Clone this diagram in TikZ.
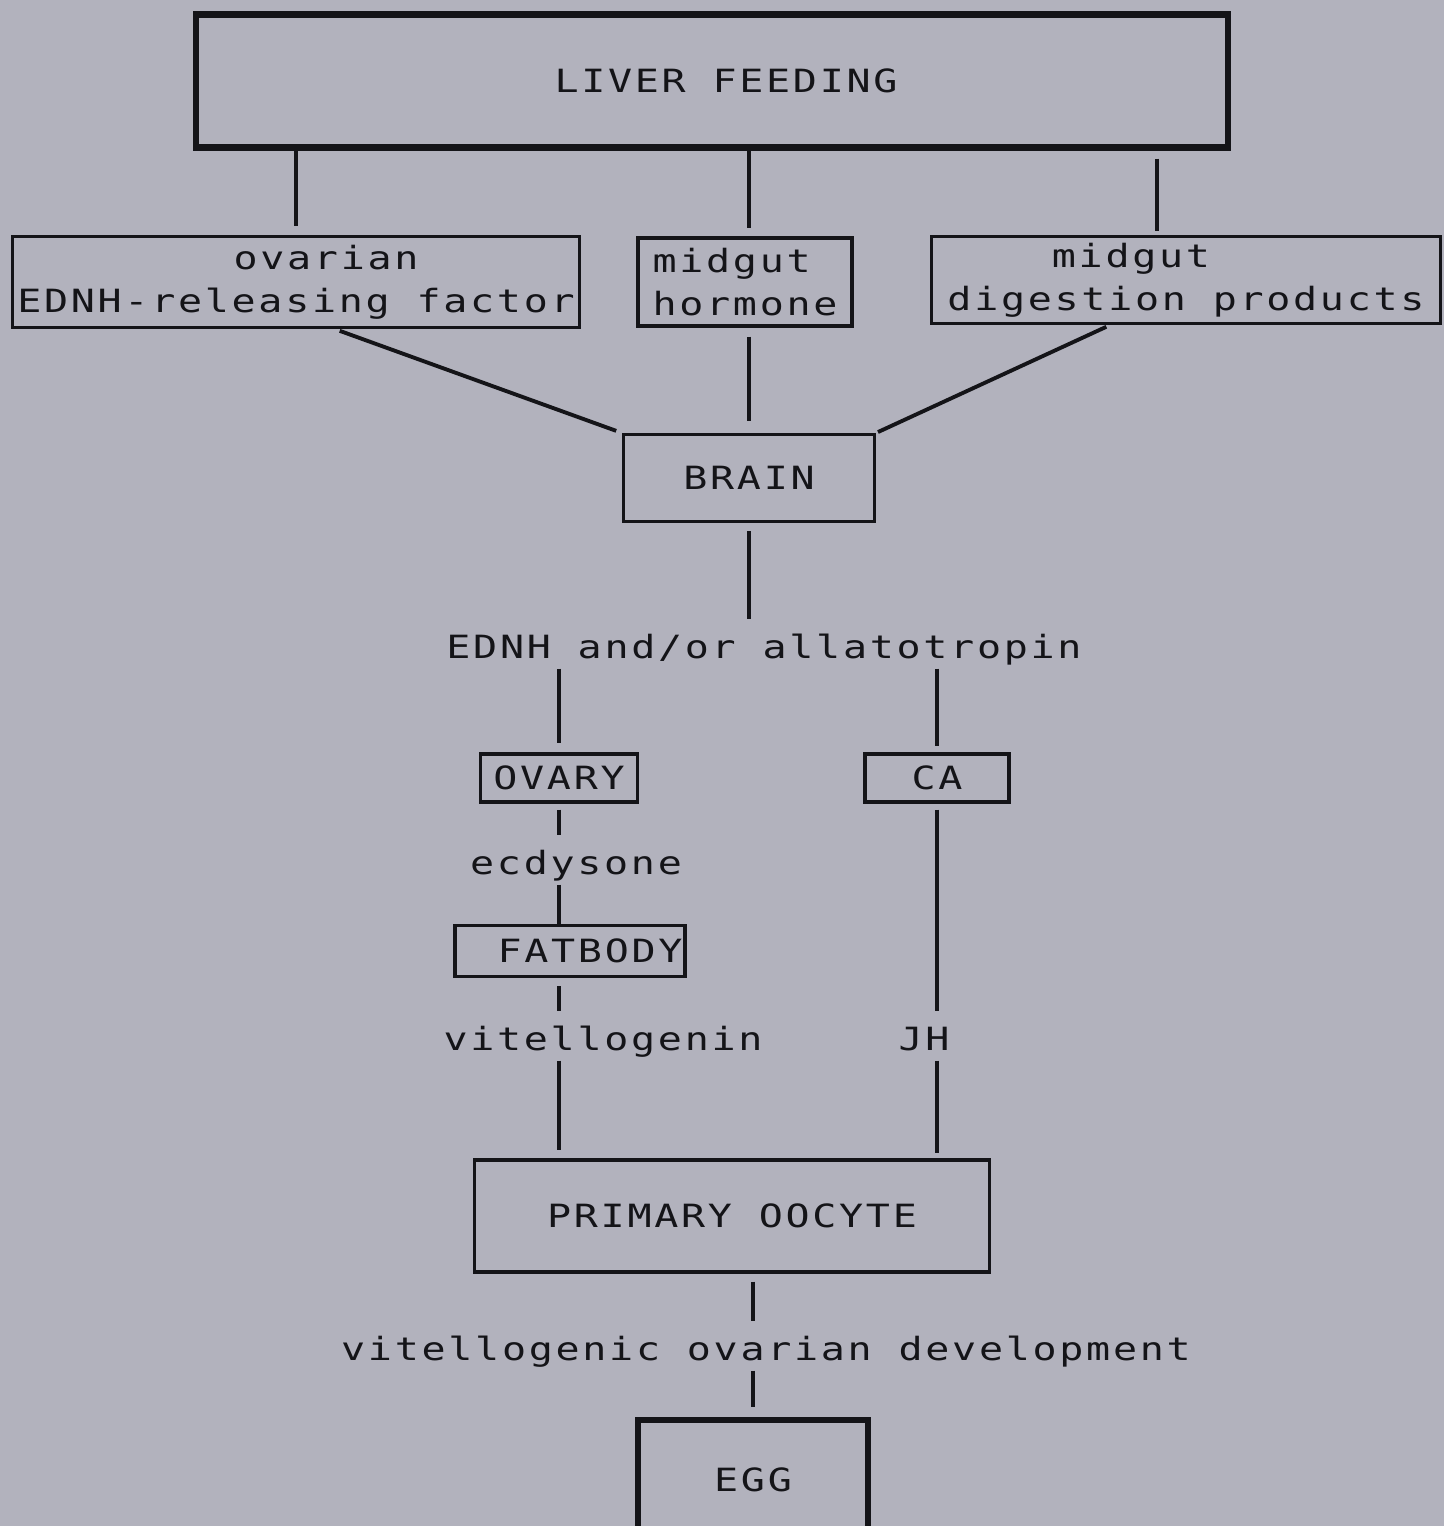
\documentclass[tikz,border=0pt]{standalone}
\usepackage{fontspec}
\usepackage{tikz}
\newfontfamily\plotfont[FakeStretch=1.25,LetterSpace=8.5]{DejaVu Sans Mono}
\definecolor{paper}{RGB}{178,178,189}
\definecolor{ink}{RGB}{20,20,24}

\begin{document}
\begin{tikzpicture}[x=0.01cm,y=-0.01cm,
    every node/.style={font=\plotfont\fontsize{9.1pt}{12.2pt}\selectfont,text=ink},
    box/.style={draw=ink,line width=0.9pt,inner sep=0pt,align=center},
    heavy/.style={box,line width=1.8pt},
    tag/.style={inner sep=0pt,minimum height=0.48cm,text height=0.29cm,text depth=0.01cm},
    conn/.style={draw=ink,line width=1.1pt}]
  \fill[paper] (0,0) rectangle (1444,1526);
  \useasboundingbox (0,0) rectangle (1444,1526);
  \node[heavy,minimum width=10.32cm,minimum height=1.33cm] (liver) at (712,81) {\hspace{0.28cm}LIVER FEEDING};
  \node[box,minimum width=5.67cm,minimum height=0.91cm] (ovf) at (296,282) {\hspace{0.6cm}ovarian\\EDNH-releasing factor};
  \node[box,align=left,minimum width=2.14cm,minimum height=0.88cm] (mh) at (745,282) {midgut\\hormone};
  \node[box,align=left,minimum width=5.08cm,minimum height=0.87cm] (dig) at (1186,280) {\phantom{dige}midgut\\digestion products};
  \node[box,minimum width=2.51cm,minimum height=0.87cm] (brain) at (749,478) {BRAIN};
  \node[tag] (lab) at (764,644) {EDNH and/or allatotropin};
  \node[box,minimum width=1.57cm,minimum height=0.48cm] (ovary) at (559,778) {OVARY};
  \node[box,minimum width=1.44cm,minimum height=0.48cm] (ca) at (937,778) {CA};
  \node[tag] (ecd) at (576,860) {ecdysone};
  \node[box,minimum width=2.30cm,minimum height=0.51cm] (fat) at (570,951) {\hspace{0.4cm}FATBODY};
  \node[tag] (vit) at (603,1036) {vitellogenin};
  \node[tag] (jh) at (924,1036) {JH};
  \node[box,minimum width=5.15cm,minimum height=1.12cm] (oocyte) at (732,1216) {PRIMARY OOCYTE};
  \node[tag] (dev) at (766,1346) {vitellogenic ovarian development};
  \node[heavy,minimum width=2.30cm,minimum height=1.20cm] (egg) at (753,1480) {EGG};
  \draw[conn,shorten >=0.09cm] (liver.south -| ovf) -- (ovf.north);
  \draw[conn,shorten >=0.08cm] (liver.south -| brain) -- (mh.north -| brain);
  \draw[conn,shorten <=0.08cm,shorten >=0.04cm] ([xshift=-0.29cm]dig.north |- liver.south) -- ([xshift=-0.29cm]dig.north);
  \draw[conn,shorten <=0.05cm,shorten >=0.06cm] ([xshift=0.39cm]ovf.south) -- (brain.north west);
  \draw[conn,shorten <=0.09cm,shorten >=0.12cm] (mh.south -| brain) -- (brain.north);
  \draw[conn,shorten <=0.04cm,shorten >=0.02cm] ([xshift=-0.76cm]dig.south) -- (brain.north east);
  \draw[conn,shorten <=0.08cm] (brain.south) -- (lab.north -| brain);
  \draw[conn,shorten >=0.09cm] (lab.south -| ovary) -- (ovary.north);
  \draw[conn,shorten >=0.06cm] (lab.south -| ca) -- (ca.north);
  \draw[conn,shorten <=0.06cm] (ovary.south) -- (ecd.north -| ovary);
  \draw[conn] (ecd.south -| ovary) -- (fat.north -| ovary);
  \draw[conn,shorten <=0.08cm] (fat.south -| ovary) -- (vit.north -| ovary);
  \draw[conn,shorten >=0.08cm] (vit.south -| ovary) -- (oocyte.north -| ovary);
  \draw[conn,shorten <=0.06cm] (ca.south) -- (jh.north -| ca);
  \draw[conn,shorten >=0.05cm] (jh.south -| ca) -- (oocyte.north -| ca);
  \draw[conn,shorten <=0.08cm] (oocyte.south -| egg) -- (dev.north -| egg);
  \draw[conn,shorten >=0.1cm] (dev.south -| egg) -- (egg.north);
\end{tikzpicture}
\end{document}
